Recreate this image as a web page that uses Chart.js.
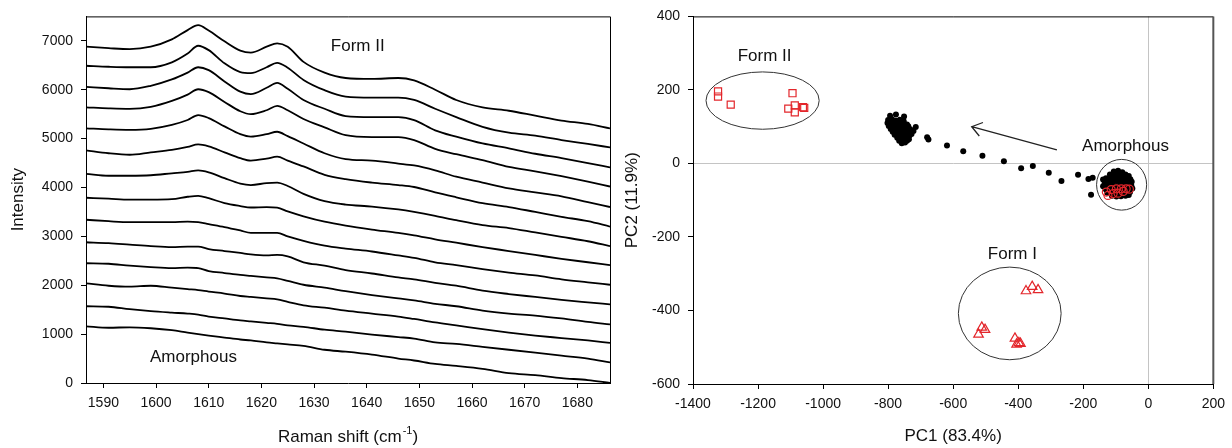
<!DOCTYPE html>
<html>
<head>
<meta charset="utf-8">
<script src="https://cdn.jsdelivr.net/npm/chart.js@4.4.1/dist/chart.umd.min.js"></script>
<style>
  html, body { margin: 0; padding: 0; background: #fff; }
  #wrap { position: relative; width: 1232px; height: 448px; }
  canvas { position: absolute; top: 0; }
  #raman { left: 0; }
  #pca { left: 616px; }
</style>
</head>
<body>
<div id="wrap">
  <canvas id="raman" width="616" height="448"></canvas>
  <canvas id="pca" width="616" height="448"></canvas>
</div>
<script>
// Raman spectra, stacked (top = Form II, bottom = amorphous)
const ramanShift = [1586.7, 1591, 1595, 1599, 1603, 1606, 1608, 1610, 1613, 1616, 1618, 1621, 1623, 1625, 1628, 1632, 1636, 1641, 1646, 1649, 1653, 1657, 1662, 1667, 1672, 1677, 1682, 1686.2];
const intensityTicks = [0, 1000, 2000, 3000, 4000, 5000, 6000, 7000];

const spectrum01 = [6880, 6850, 6830, 6880, 7030, 7220, 7320, 7210, 6990, 6800, 6760, 6880, 6950, 6880, 6570, 6350, 6240, 6220, 6240, 6190, 6000, 5790, 5640, 5570, 5470, 5370, 5300, 5210];
const spectrum02 = [6490, 6470, 6460, 6460, 6560, 6740, 6900, 6810, 6540, 6360, 6340, 6460, 6550, 6450, 6200, 5990, 5860, 5840, 5840, 5790, 5610, 5440, 5240, 5120, 5060, 4970, 4890, 4820];
const spectrum03 = [6060, 6030, 6010, 6080, 6210, 6350, 6460, 6400, 6170, 5960, 5910, 6040, 6140, 6020, 5790, 5610, 5460, 5440, 5440, 5380, 5170, 5040, 4900, 4800, 4690, 4600, 4500, 4410];
const spectrum04 = [5640, 5620, 5610, 5650, 5770, 5900, 6010, 5950, 5750, 5560, 5500, 5580, 5670, 5580, 5400, 5230, 5070, 5030, 5030, 4970, 4790, 4680, 4560, 4420, 4330, 4230, 4120, 4020];
const spectrum05 = [5210, 5190, 5180, 5200, 5280, 5380, 5480, 5420, 5250, 5090, 5040, 5090, 5140, 5050, 4900, 4700, 4580, 4550, 4490, 4450, 4350, 4220, 4100, 3980, 3900, 3820, 3700, 3600];
const spectrum06 = [4760, 4700, 4670, 4720, 4770, 4830, 4880, 4840, 4720, 4600, 4550, 4590, 4630, 4550, 4430, 4260, 4170, 4100, 4050, 4010, 3900, 3800, 3680, 3600, 3500, 3400, 3310, 3200];
const spectrum07 = [4280, 4240, 4240, 4250, 4290, 4320, 4350, 4310, 4190, 4080, 4050, 4090, 4100, 4030, 3870, 3720, 3650, 3610, 3550, 3500, 3420, 3330, 3230, 3170, 3080, 2990, 2900, 2800];
const spectrum08 = [3790, 3770, 3750, 3750, 3760, 3810, 3830, 3780, 3680, 3620, 3590, 3600, 3590, 3510, 3410, 3300, 3220, 3140, 3070, 3020, 2940, 2870, 2780, 2700, 2620, 2540, 2470, 2410];
const spectrum09 = [3340, 3310, 3290, 3290, 3290, 3300, 3290, 3250, 3190, 3120, 3070, 3070, 3070, 3000, 2910, 2810, 2750, 2690, 2610, 2560, 2470, 2410, 2330, 2260, 2200, 2120, 2060, 2010];
const spectrum10 = [2880, 2860, 2830, 2800, 2780, 2790, 2790, 2740, 2700, 2660, 2630, 2610, 2620, 2590, 2470, 2400, 2310, 2240, 2160, 2120, 2050, 1990, 1890, 1820, 1760, 1700, 1650, 1610];
const spectrum11 = [2450, 2440, 2400, 2370, 2350, 2360, 2350, 2290, 2250, 2210, 2190, 2160, 2140, 2090, 2010, 1950, 1880, 1800, 1730, 1690, 1620, 1570, 1480, 1420, 1380, 1320, 1250, 1200];
const spectrum12 = [2040, 1990, 1970, 1990, 1950, 1920, 1900, 1870, 1830, 1780, 1760, 1730, 1710, 1660, 1590, 1540, 1480, 1420, 1360, 1310, 1240, 1180, 1100, 1030, 970, 920, 870, 820];
const spectrum13 = [1570, 1560, 1510, 1470, 1440, 1420, 1400, 1360, 1320, 1280, 1260, 1230, 1210, 1180, 1150, 1090, 1050, 990, 940, 910, 830, 800, 740, 680, 620, 560, 500, 420];
const spectrum14 = [1160, 1130, 1140, 1120, 1080, 1030, 1000, 970, 930, 890, 870, 830, 810, 790, 760, 680, 640, 580, 500, 460, 390, 350, 290, 200, 160, 100, 60, 0];

const spectra = [spectrum01, spectrum02, spectrum03, spectrum04, spectrum05, spectrum06, spectrum07,
                 spectrum08, spectrum09, spectrum10, spectrum11, spectrum12, spectrum13, spectrum14];

// PCA scores [PC1, PC2]
const formIIRefs = [[-1323, 196], [-1323, 182], [-1284, 160], [-1094, 191], [-1107, 149], [-1087, 158], [-1087, 139], [-1062, 153], [-1058, 151]];
const formIRefs = [[-376, -347], [-357, -335], [-339, -344], [-512, -446], [-502, -452], [-522, -465], [-410, -476], [-398, -488], [-405, -492], [-393, -490]];
const amorphousRefs = [[-129, -78], [-114, -71], [-98, -69], [-83, -69], [-68, -69], [-58, -70], [-124, -87], [-108, -82], [-93, -81], [-77, -76]];

const startScores = [
  [-106, -22], [-93, -20], [-80, -24], [-118, -30], [-105, -31], [-94, -28], [-82, -32], [-70, -30], [-60, -34],
  [-130, -40], [-117, -38], [-104, -41], [-91, -39], [-79, -42], [-67, -40], [-55, -43],
  [-134, -50], [-122, -49], [-110, -51], [-98, -48], [-86, -52], [-74, -50], [-62, -52], [-51, -50],
  [-136, -60], [-124, -61], [-112, -58], [-100, -62], [-88, -60], [-76, -63], [-64, -59], [-52, -61],
  [-131, -70], [-120, -68], [-108, -71], [-96, -69], [-84, -72], [-72, -70], [-60, -71], [-49, -68],
  [-126, -80], [-114, -78], [-102, -81], [-90, -79], [-78, -82], [-66, -80], [-56, -78],
  [-112, -88], [-98, -90], [-84, -89], [-70, -88], [-60, -86]
];
const pathScores = [
  [-619, 49], [-569, 33], [-510, 21], [-444, 6], [-391, -13], [-355, -7], [-306, -25], [-267, -48],
  [-216, -31], [-184, -42], [-171, -39], [-176, -85], [-139, -44], [-139, -62]
];
const endScores = [
  [-794, 130], [-776, 133], [-751, 128],
  [-800, 118], [-788, 120], [-776, 116], [-764, 119], [-752, 115],
  [-802, 110], [-790, 108], [-778, 111], [-766, 107], [-754, 110], [-742, 106],
  [-798, 102], [-786, 99], [-774, 103], [-762, 100], [-750, 97], [-738, 101],
  [-792, 94], [-780, 91], [-768, 95], [-756, 92], [-744, 89], [-732, 93], [-722, 88],
  [-786, 86], [-774, 83], [-762, 85], [-750, 81], [-738, 84], [-728, 80],
  [-780, 78], [-768, 75], [-756, 77], [-744, 73], [-734, 76],
  [-772, 70], [-760, 67], [-748, 69], [-736, 66],
  [-766, 62], [-754, 59], [-742, 62],
  [-758, 55], [-748, 57],
  [-715, 99], [-680, 71], [-676, 65]
];

// annotations (data units)
const ramanNotes = [{ text: 'Form II', x: 1638.3, y: 6880 }, { text: 'Amorphous', x: 1607.1, y: 530 }];
const pcaNotes = [{ text: 'Form II', x: -1180, y: 291 }, { text: 'Amorphous', x: -70, y: 46 }, { text: 'Form I', x: -418, y: -247 }];
const pcaOutlines = [{ cx: -1186, cy: 171, rx: 174, ry: 78 }, { cx: -426, cy: -408, rx: 158, ry: 126 }, { cx: -82, cy: -58, rx: 77, ry: 69 }];
const pcaArrow = { from: [-281, 37], to: [-543, 100] };

const FONT = '"Liberation Sans", Arial, Helvetica, sans-serif';
const RED = '#e3262b';
Chart.defaults.font.family = FONT;
Chart.defaults.font.size = 14;
Chart.defaults.color = '#111';

const toXY = pairs => pairs.map(p => ({ x: p[0], y: p[1] }));

const ramanDecor = {
  id: 'ramanDecor',
  afterDraw(chart) {
    const { ctx, chartArea: a, scales: { x, y } } = chart;
    ctx.save();
    ctx.strokeStyle = '#000';
    ctx.lineWidth = 1;
    ctx.beginPath();
    ctx.moveTo(a.left, a.top + 0.5);
    ctx.lineTo(a.right + 0.5, a.top + 0.5);
    ctx.lineTo(a.right + 0.5, a.bottom);
    ctx.stroke();

    ctx.fillStyle = '#111';
    ctx.font = '17px ' + FONT;
    ctx.textAlign = 'center';
    ctx.textBaseline = 'middle';
    ramanNotes.forEach(n => ctx.fillText(n.text, x.getPixelForValue(n.x), y.getPixelForValue(n.y)));

    // x title with superscript
    const main = 'Raman shift (cm', sup = '-1', close = ')';
    ctx.textAlign = 'left';
    ctx.textBaseline = 'alphabetic';
    ctx.font = '17px ' + FONT;
    const wMain = ctx.measureText(main).width, wClose = ctx.measureText(close).width;
    ctx.font = '11px ' + FONT;
    const wSup = ctx.measureText(sup).width;
    let tx = (a.left + a.right) / 2 - (wMain + wSup + wClose + 1) / 2;
    const base = 442;
    ctx.font = '17px ' + FONT;
    ctx.fillText(main, tx, base);
    tx += wMain + 1;
    ctx.font = '11px ' + FONT;
    ctx.fillText(sup, tx, base - 8);
    tx += wSup;
    ctx.font = '17px ' + FONT;
    ctx.fillText(close, tx, base);
    ctx.restore();
  }
};

const pcaDecor = {
  id: 'pcaDecor',
  beforeDatasetsDraw(chart) {
    const { ctx, scales: { x, y } } = chart;
    ctx.save();
    ctx.strokeStyle = '#333';
    ctx.lineWidth = 1;
    pcaOutlines.forEach(o => {
      const px = x.getPixelForValue(o.cx), py = y.getPixelForValue(o.cy);
      const rx = Math.abs(x.getPixelForValue(o.cx + o.rx) - px);
      const ry = Math.abs(y.getPixelForValue(o.cy + o.ry) - py);
      ctx.beginPath();
      ctx.ellipse(px, py, rx, ry, 0, 0, Math.PI * 2);
      ctx.stroke();
    });
    // arrow
    const x0 = x.getPixelForValue(pcaArrow.from[0]), y0 = y.getPixelForValue(pcaArrow.from[1]);
    const x1 = x.getPixelForValue(pcaArrow.to[0]), y1 = y.getPixelForValue(pcaArrow.to[1]);
    const ang = Math.atan2(y0 - y1, x0 - x1);
    const head = 12, spread = 0.62;
    ctx.strokeStyle = '#222';
    ctx.lineWidth = 1.3;
    ctx.beginPath();
    ctx.moveTo(x0, y0);
    ctx.lineTo(x1, y1);
    ctx.moveTo(x1 + head * Math.cos(ang - spread), y1 + head * Math.sin(ang - spread));
    ctx.lineTo(x1, y1);
    ctx.lineTo(x1 + head * Math.cos(ang + spread), y1 + head * Math.sin(ang + spread));
    ctx.stroke();
    ctx.restore();
  },
  afterDraw(chart) {
    const { ctx, chartArea: a, scales: { x, y } } = chart;
    ctx.save();
    ctx.strokeStyle = '#000';
    ctx.lineWidth = 1;
    ctx.beginPath();
    ctx.moveTo(a.left, a.top + 0.5);
    ctx.lineTo(a.right, a.top + 0.5);
    ctx.stroke();
    ctx.strokeStyle = '#555';
    ctx.lineWidth = 2;
    ctx.beginPath();
    ctx.moveTo(a.right, a.top);
    ctx.lineTo(a.right, a.bottom);
    ctx.stroke();

    ctx.fillStyle = '#111';
    ctx.font = '17px ' + FONT;
    ctx.textAlign = 'center';
    ctx.textBaseline = 'middle';
    pcaNotes.forEach(n => ctx.fillText(n.text, x.getPixelForValue(n.x), y.getPixelForValue(n.y)));
    ctx.restore();
  }
};

new Chart(document.getElementById('raman'), {
  type: 'line',
  data: {
    datasets: spectra.map(s => ({
      data: ramanShift.map((v, i) => ({ x: v, y: s[i] })),
      borderColor: '#000',
      borderWidth: 1.8,
      pointRadius: 0,
      fill: false,
      cubicInterpolationMode: 'monotone'
    }))
  },
  options: {
    responsive: false,
    animation: false,
    devicePixelRatio: 1,
    layout: { padding: { top: 15, right: 6, left: 0, bottom: 0 } },
    plugins: { legend: { display: false }, tooltip: { enabled: false } },
    scales: {
      x: {
        type: 'linear', min: 1586.7, max: 1686.2,
        afterFit: s => { s.height = 65; },
        border: { color: '#000', width: 1 },
        grid: { drawOnChartArea: false, tickLength: 5, tickColor: '#000' },
        ticks: { stepSize: 10, includeBounds: false, padding: 7, maxRotation: 0, callback: v => String(v) }
      },
      y: {
        min: 0, max: 7500,
        afterFit: s => { s.width = 86; },
        afterBuildTicks: s => { s.ticks = intensityTicks.map(v => ({ value: v })); },
        border: { color: '#000', width: 1 },
        grid: { drawOnChartArea: false, tickLength: 5, tickColor: '#000' },
        ticks: { padding: 8, callback: v => String(v) },
        title: { display: true, text: 'Intensity', font: { size: 17 }, color: '#111', padding: { top: 8, bottom: 0 } }
      }
    }
  },
  plugins: [ramanDecor]
});

const zeroLine = c => (c.tick && c.tick.value === 0) ? '#c4c4c4' : 'rgba(0,0,0,0)';

new Chart(document.getElementById('pca'), {
  type: 'scatter',
  data: {
    datasets: [
      { data: toXY(amorphousRefs), pointStyle: 'circle', pointRadius: 4, borderColor: RED, borderWidth: 1.2, backgroundColor: 'rgba(0,0,0,0)' },
      { data: toXY(formIIRefs), pointStyle: 'rect', pointRadius: 5, borderColor: RED, borderWidth: 1.2, backgroundColor: 'rgba(0,0,0,0)' },
      { data: toXY(formIRefs), pointStyle: 'triangle', pointRadius: 5.5, borderColor: RED, borderWidth: 1.2, backgroundColor: 'rgba(0,0,0,0)' },
      { data: toXY(startScores), pointRadius: 3, backgroundColor: '#000', borderWidth: 0 },
      { data: toXY(pathScores), pointRadius: 3, backgroundColor: '#000', borderWidth: 0 },
      { data: toXY(endScores), pointRadius: 3, backgroundColor: '#000', borderWidth: 0 }
    ]
  },
  options: {
    responsive: false,
    animation: false,
    devicePixelRatio: 1,
    layout: { padding: { top: 16, right: 14, left: 0, bottom: 0 } },
    plugins: { legend: { display: false }, tooltip: { enabled: false } },
    scales: {
      x: {
        type: 'linear', min: -1400, max: 200,
        afterFit: s => { s.height = 64; },
        border: { color: '#000', width: 1 },
        grid: { color: zeroLine, tickLength: 5, tickColor: '#000' },
        ticks: { stepSize: 200, padding: 7, maxRotation: 0, callback: v => String(v) },
        title: { display: true, text: 'PC1 (83.4%)', font: { size: 17 }, color: '#111', padding: { top: 0, bottom: 1 } }
      },
      y: {
        min: -600, max: 400,
        afterFit: s => { s.width = 77; },
        border: { color: '#000', width: 1 },
        grid: { color: zeroLine, tickLength: 5, tickColor: '#000' },
        ticks: { stepSize: 200, padding: 8, callback: v => String(v) },
        title: { display: true, text: 'PC2 (11.9%)', font: { size: 17 }, color: '#111', padding: { top: 6, bottom: 0 } }
      }
    }
  },
  plugins: [pcaDecor]
});
</script>
</body>
</html>
